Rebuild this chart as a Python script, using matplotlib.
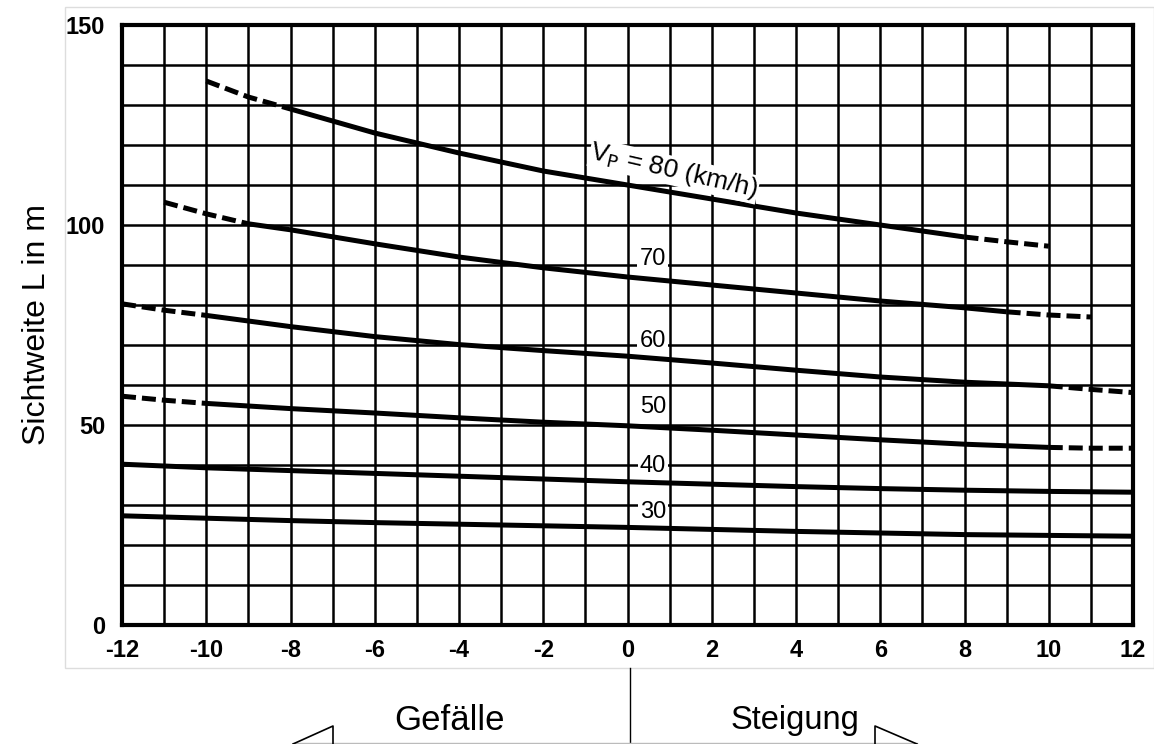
import matplotlib
matplotlib.use("Agg")
import matplotlib.pyplot as plt
from matplotlib.lines import Line2D
from matplotlib.patches import Rectangle

plt.rcParams['font.family'] = ['Liberation Sans', 'DejaVu Sans']

# Steigung / Gefälle in %
x_grid = [-12, -11, -10, -9, -8, -7, -6, -5, -4, -3, -2, -1, 0, 1, 2, 3, 4, 5, 6, 7, 8, 9, 10, 11, 12]

# Kurven: (gestrichelt links, durchgezogen, gestrichelt rechts)
v80_dash_l = ([-10, -9, -8], [136.0, 132.0, 129.0])
v80_solid = ([-8, -6, -4, -2, 0, 2, 4, 6, 8], [129.0, 123.0, 118.0, 113.5, 110.0, 106.5, 103.0, 100.0, 97.0])
v80_dash_r = ([8, 9, 10], [97.0, 95.8, 94.7])

v70_dash_l = ([-11, -10, -9], [105.7, 102.8, 100.3])
v70_solid = ([-9, -8, -6, -4, -2, 0, 2, 4, 6, 8, 9], [100.3, 98.8, 95.3, 92.0, 89.3, 87.0, 85.0, 83.0, 81.0, 79.3, 78.3])
v70_dash_r = ([9, 10, 11], [78.3, 77.5, 77.0])

v60_dash_l = ([-12, -11, -10], [80.3, 78.7, 77.4])
v60_solid = ([-10, -8, -6, -4, -2, 0, 2, 4, 6, 8, 10], [77.4, 74.6, 72.1, 70.1, 68.6, 67.2, 65.5, 63.7, 62.0, 60.7, 59.8])
v60_dash_r = ([10, 11, 12], [59.8, 58.9, 58.1])

v50_dash_l = ([-12, -11, -10], [57.2, 56.2, 55.4])
v50_solid = ([-10, -8, -6, -4, -2, 0, 2, 4, 6, 8, 10], [55.4, 54.1, 53.0, 51.8, 50.7, 49.8, 48.7, 47.5, 46.3, 45.2, 44.4])
v50_dash_r = ([10, 11, 12], [44.4, 44.2, 44.2])

v40_x = [-12, -10, -8, -6, -4, -2, 0, 2, 4, 6, 8, 10, 12]
v40_y = [40.2, 39.3, 38.6, 37.9, 37.2, 36.5, 35.8, 35.2, 34.6, 34.1, 33.7, 33.4, 33.2]

v30_x = [-12, -10, -8, -6, -4, -2, 0, 2, 4, 6, 8, 10, 12]
v30_y = [27.3, 26.7, 26.1, 25.6, 25.2, 24.8, 24.4, 23.9, 23.4, 23.0, 22.6, 22.4, 22.2]

# Beschriftungen der Kurven
curve_labels = ['70', '60', '50', '40', '30']
curve_label_y = [91.5, 71.0, 54.5, 39.7, 28.3]

x_ticks = [-12, -10, -8, -6, -4, -2, 0, 2, 4, 6, 8, 10, 12]
y_ticks = [0, 50, 100, 150]

fig = plt.figure(figsize=(11.54, 7.44), dpi=100)
ax = fig.add_axes([122 / 1154, 119 / 744, (1133 - 122) / 1154, (625 - 25) / 744])

# Raster
for xv in x_grid:
    ax.axvline(xv, color='black', lw=1.8, zorder=1)
for yv in range(10, 150, 10):
    ax.axhline(yv, color='black', lw=1.8, zorder=1)

solid_kw = dict(color='black', lw=3.6, solid_capstyle='butt', zorder=3)
dash_kw = dict(color='black', lw=3.6, linestyle=(0, (2.8, 1.2)), zorder=3)

for dl, so, dr in [(v80_dash_l, v80_solid, v80_dash_r),
                   (v70_dash_l, v70_solid, v70_dash_r),
                   (v60_dash_l, v60_solid, v60_dash_r),
                   (v50_dash_l, v50_solid, v50_dash_r)]:
    ax.plot(dl[0], dl[1], **dash_kw)
    ax.plot(so[0], so[1], **solid_kw)
    ax.plot(dr[0], dr[1], **dash_kw)

ax.plot(v40_x, v40_y, **solid_kw)
ax.plot(v30_x, v30_y, **solid_kw)

for lab, ly in zip(curve_labels, curve_label_y):
    ax.text(0.6, ly, lab, fontsize=17, ha='center', va='center', zorder=4,
            bbox=dict(facecolor='white', edgecolor='none', pad=1.5))

ax.text(1.1, 113.5, r'V$_{\rm P}$ = 80 (km/h)', fontsize=19, ha='center', va='center',
        rotation=-13, zorder=4, bbox=dict(facecolor='white', edgecolor='none', pad=0.3))

ax.set_xlim(-12, 12)
ax.set_ylim(0, 150)
ax.set_xticks(x_ticks)
ax.set_xticklabels([str(t) for t in x_ticks], fontsize=17, fontweight='bold')
ax.set_yticks(y_ticks)
ax.set_yticklabels([str(t) for t in y_ticks], fontsize=17, fontweight='bold')
ax.tick_params(length=0, pad=10)
ax.tick_params(axis='y', pad=12)
for sp in ax.spines.values():
    sp.set_linewidth(3)
    sp.set_zorder(5)

fig.text(37 / 1154, 1 - 325 / 744, 'Sichtweite L in m', rotation=90, fontsize=23,
         ha='center', va='center')

# Rahmen des Bildes
fig.patches.append(Rectangle((65 / 1154, 1 - 668 / 744), 1 - 65 / 1154, (668 - 7) / 744,
                             transform=fig.transFigure, fill=False, edgecolor='#dddddd', lw=1))

# Gefälle / Steigung Pfeile
fig.add_artist(Line2D([630 / 1154, 630 / 1154], [1 - 668 / 744, 0], color='black', lw=1,
                      transform=fig.transFigure))
fig.add_artist(Line2D([293 / 1154, 917 / 1154], [1 - 743 / 744, 1 - 743 / 744], color='#bbbbbb', lw=1,
                      transform=fig.transFigure))
fig.add_artist(Line2D([293 / 1154, 333 / 1154, 333 / 1154], [0, 1 - 726 / 744, 0], color='black', lw=1.2,
                      transform=fig.transFigure))
fig.add_artist(Line2D([917 / 1154, 875 / 1154, 875 / 1154], [0, 1 - 726 / 744, 0], color='black', lw=1.2,
                      transform=fig.transFigure))
fig.text(394 / 1154, 1 - 720 / 744, 'Gefälle', fontsize=25, ha='left', va='center')
fig.text(859 / 1154, 1 - 720 / 744, 'Steigung', fontsize=23.5, ha='right', va='center')

fig.savefig('out.png', dpi=100)
